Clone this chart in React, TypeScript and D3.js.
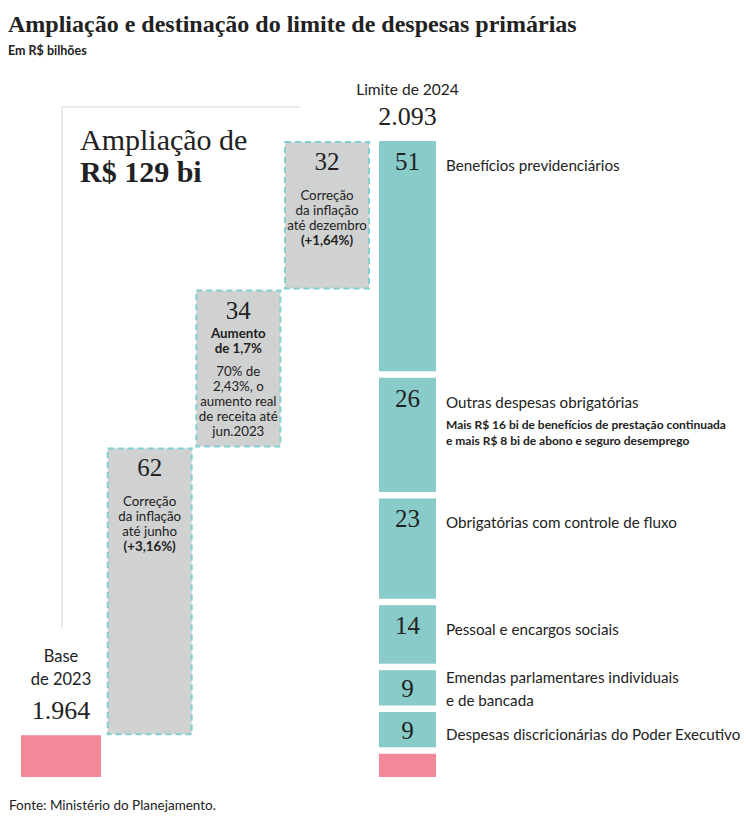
import React from "react";
import * as d3 from "d3";

const W = 746;
const H = 822;

const titleText = "Ampliação e destinação do limite de despesas primárias";
const subtitleText = "Em R$ bilhões";
const sourceText = "Fonte: Ministério do Planejamento.";

const baseLabel = ["Base", "de 2023"];
const baseValue = 1964;
const baseShown = 9; // units of the base bar that are drawn
const limitLabel = "Limite de 2024";
const limitValue = 2093;
const ampliacaoLabel = ["Ampliação de", "R$ 129 bi"];

const stepKeys = ["s1", "s2", "s3"];
const stepValues = [62, 34, 32];
const stepNotes: { t: string; b: boolean; gap?: boolean }[][] = [
  [
    { t: "Correção", b: false },
    { t: "da inflação", b: false },
    { t: "até junho", b: false },
    { t: "(+3,16%)", b: true },
  ],
  [
    { t: "Aumento", b: true },
    { t: "de 1,7%", b: true },
    { t: "70% de", b: false, gap: true },
    { t: "2,43%, o", b: false },
    { t: "aumento real", b: false },
    { t: "de receita até", b: false },
    { t: "jun.2023", b: false },
  ],
  [
    { t: "Correção", b: false },
    { t: "da inflação", b: false },
    { t: "até dezembro", b: false },
    { t: "(+1,64%)", b: true },
  ],
];

const allocValues = [51, 26, 23, 14, 9, 9];
const allocLabels = [
  ["Benefícios previdenciários"],
  ["Outras despesas obrigatórias"],
  ["Obrigatórias com controle de fluxo"],
  ["Pessoal e encargos sociais"],
  ["Emendas parlamentares individuais", "e de bancada"],
  ["Despesas discricionárias do Poder Executivo"],
];
const allocNotes = [
  [],
  [
    "Mais R$ 16 bi de benefícios de prestação continuada",
    "e mais R$ 8 bi de abono e seguro desemprego",
  ],
  [],
  [],
  [],
  [],
];

const SERIF = "'Liberation Serif', 'DejaVu Serif', serif";
const SANS = "Lato, 'Noto Sans', sans-serif";
const TEXT = "#222";
const TEAL = "#88cbc8";
const PINK = "#f28898";
const GRAY = "#d0d1d1";
const DASH = "#7fd0cf";

const fmt = (v: number) => d3.format(",")(v).replace(/,/g, ".");

export default function App() {
  const stepTotal = d3.sum(stepValues);
  const top = baseValue + stepTotal;
  const y = d3
    .scaleLinear()
    .domain([baseValue - baseShown, top])
    .range([777, 141]);

  const x = d3
    .scaleBand<string>()
    .domain(["base", ...stepKeys])
    .range([18, 370])
    .paddingInner(0.03)
    .paddingOuter(0);
  const bw = x.bandwidth();

  const stackX = 379;
  const stackW = 57;
  const gap = 6.5;

  const cum = d3.cumsum(stepValues);
  const steps = stepValues.map((v, i) => {
    const start = baseValue + (i === 0 ? 0 : cum[i - 1]);
    return { v, key: stepKeys[i], y0: y(start), y1: y(start + v), notes: stepNotes[i] };
  });
  const noteStart = [59, 48, 59];

  const acum = d3.cumsum(allocValues);
  const allocs = allocValues.map((v, i) => {
    const t = top - (i === 0 ? 0 : acum[i - 1]);
    const yt = y(t);
    const yb = y(t - v) - gap;
    return { v, yt, yb, h: yb - yt, labels: allocLabels[i], notes: allocNotes[i] };
  });
  const stackEnd = y(top - d3.sum(allocValues));

  const baseX = (x("base") as number) + 3;
  const baseCx = baseX + (bw - 6) / 2;

  return (
    <svg
      width={W}
      height={H}
      style={{ position: "absolute", left: 0, top: 0, background: "#fff" }}
    >
      <text x={8} y={32} fontFamily={SERIF} fontWeight="bold" fontSize={24} fill={TEXT}>
        {titleText}
      </text>
      <text x={8} y={55} fontFamily={SANS} fontWeight="bold" fontSize={12.5} fill={TEXT}>
        {subtitleText}
      </text>

      {/* bracket */}
      <path d="M62,628 V107 H300" fill="none" stroke="#e4e4e4" strokeWidth={1.5} />
      <text x={80} y={150} fontFamily={SERIF} fontSize={30} fill={TEXT}>
        {ampliacaoLabel[0]}
      </text>
      <text x={80} y={182} fontFamily={SERIF} fontWeight="bold" fontSize={30} fill={TEXT}>
        {ampliacaoLabel[1]}
      </text>

      {/* base bar */}
      <rect x={baseX} y={y(baseValue)} width={bw - 6} height={y(baseValue - baseShown) - y(baseValue)} fill={PINK} />
      <text x={baseCx} y={662} textAnchor="middle" fontFamily={SANS} fontSize={16.5} fill={TEXT}>
        {baseLabel[0]}
      </text>
      <text x={baseCx} y={685} textAnchor="middle" fontFamily={SANS} fontSize={16.5} fill={TEXT}>
        {baseLabel[1]}
      </text>
      <text x={baseCx} y={719} textAnchor="middle" fontFamily={SERIF} fontSize={26} fill={TEXT}>
        {fmt(baseValue)}
      </text>

      {/* steps */}
      {steps.map((s, i) => {
        const x0 = x(s.key) as number;
        const cx = x0 + bw / 2;
        let yy = s.y1 + noteStart[i];
        return (
          <g key={s.key}>
            <rect
              x={x0 + 1}
              y={s.y1 + 1}
              width={bw - 2}
              height={s.y0 - s.y1 - 2}
              fill={GRAY}
              stroke={DASH}
              strokeWidth={2}
              strokeDasharray="6,4"
            />
            <text x={cx} y={s.y1 + 29} textAnchor="middle" fontFamily={SERIF} fontSize={25} fill={TEXT}>
              {s.v}
            </text>
            {s.notes.map((n, j) => {
              if (j > 0) yy += n.gap ? 23 : 15;
              return (
                <text
                  key={j}
                  x={cx}
                  y={yy}
                  textAnchor="middle"
                  fontFamily={SANS}
                  fontWeight={n.b ? "bold" : "normal"}
                  fontSize={13.3}
                  fill={TEXT}
                >
                  {n.t}
                </text>
              );
            })}
          </g>
        );
      })}

      {/* limit */}
      <text x={stackX + stackW / 2} y={95} textAnchor="middle" fontFamily={SANS} fontSize={15.5} fill={TEXT}>
        {limitLabel}
      </text>
      <text x={stackX + stackW / 2} y={125} textAnchor="middle" fontFamily={SERIF} fontSize={26} fill={TEXT}>
        {fmt(limitValue)}
      </text>

      {allocs.map((a, i) => {
        const nb = a.yt + Math.min(29, a.h / 2 + 9);
        const multi = a.labels.length > 1;
        return (
          <g key={i}>
            <rect x={stackX} y={a.yt} width={stackW} height={a.h} fill={TEAL} />
            <text x={stackX + stackW / 2} y={nb} textAnchor="middle" fontFamily={SERIF} fontSize={25} fill={TEXT}>
              {a.v}
            </text>
            {a.labels.map((l, j) => (
              <text
                key={j}
                x={446}
                y={multi ? nb - 13.5 + j * 23 : nb + 1}
                fontFamily={SANS}
                fontSize={15.2}
                fill={TEXT}
              >
                {l}
              </text>
            ))}
            {a.notes.map((n, j) => (
              <text
                key={"n" + j}
                x={446}
                y={nb + 1 + 21 + j * 16}
                fontFamily={SANS}
                fontWeight="bold"
                fontSize={12}
                fill={TEXT}
              >
                {n}
              </text>
            ))}
          </g>
        );
      })}
      <rect x={stackX} y={stackEnd} width={stackW} height={y(baseValue - baseShown) - stackEnd} fill={PINK} />

      <text x={9} y={810} fontFamily={SANS} fontSize={13.5} fill={TEXT}>
        {sourceText}
      </text>
    </svg>
  );
}
